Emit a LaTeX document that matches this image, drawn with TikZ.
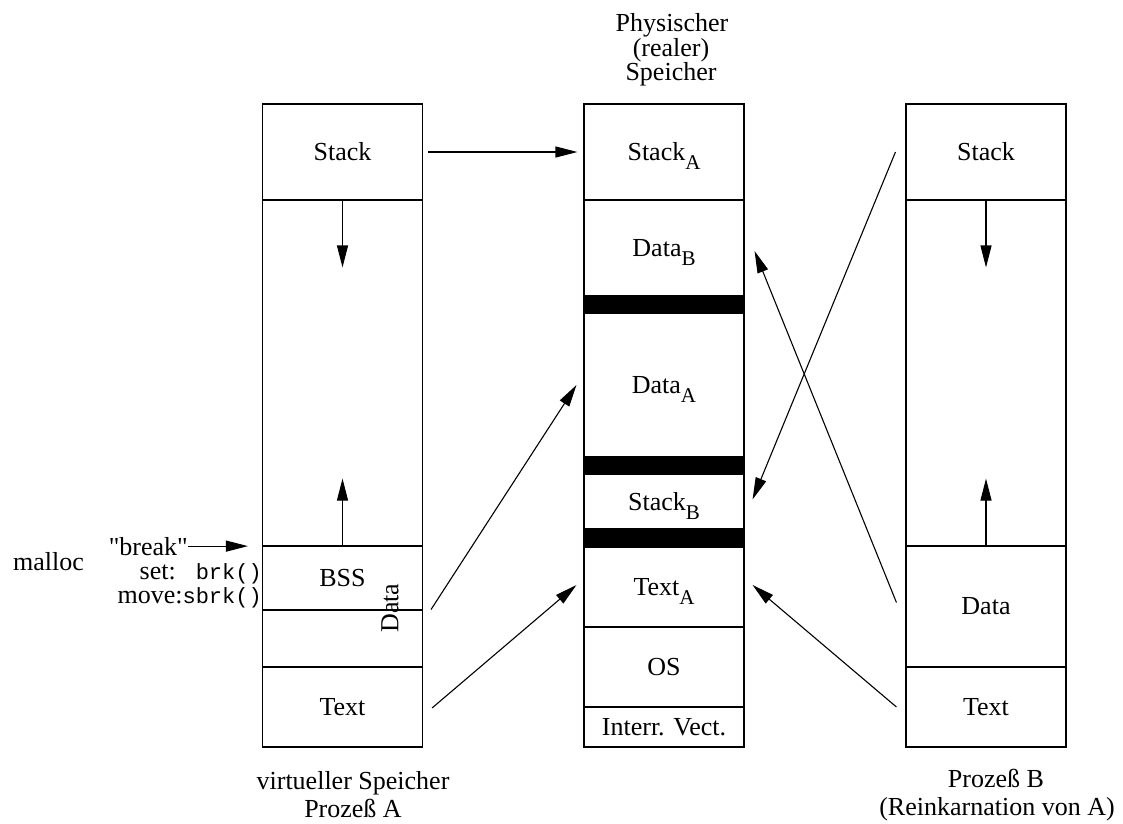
\documentclass[tikz,border=0pt]{standalone}
\usepackage{fontspec}
\setmainfont{Liberation Serif}
\setmonofont{Liberation Mono}
% same serif without TeX quote ligatures, for straight quotes
\newfontfamily\plainserif{Liberation Serif}[Ligatures=TeXOff]
\usetikzlibrary{arrows.meta,calc}
% lowered index letter that does not change the height of its line
\newcommand{\idx}[1]{\raisebox{-9pt}[0pt][0pt]{\fontsize{21}{21}\selectfont #1}}
% function names in typewriter type
\newcommand{\fn}[1]{{\fontsize{22}{22}\selectfont\ttfamily #1}}

\begin{document}
\begin{tikzpicture}[x=1pt,y=-1pt,
  every node/.style={font=\fontsize{26}{25}\selectfont, inner sep=0pt},
  seg/.style={draw, line width=1.1pt, minimum width=160pt},
  bar/.style={draw=black, fill=black, line width=1.1pt, minimum width=160pt},
  arr/.style={line width=1.1pt, -{Triangle[length=22pt,width=11pt]}}]
\useasboundingbox (0,0) rectangle (1123,823);

% virtual memory of process A
\node[seg, minimum height=96pt]  (lstack) at (342.5,152)   {Stack};
\node[seg, minimum height=346pt] (lfree)  at (342.5,373)   {};
\node[seg, minimum height=64pt]  (lbss)   at (342.5,578)   {BSS};
\node[seg, minimum height=57pt]  (ldata)  at (342.5,638.5) {};
\node[seg, minimum height=80pt]  (ltext)  at (342.5,707)   {Text};
\node[rotate=90] (ldlabel) at (390,608) {Data};

% physical memory
\node[seg, minimum height=96pt]  (mstack)  at (664,152)   {Stack\idx{A}};
\node[seg, minimum height=96pt]  (mdataB)  at (664,248)   {Data\idx{B}};
\node[bar, minimum height=17pt]  (bar1)    at (664,304.5) {};
\node[seg, minimum height=144pt] (mdataA)  at (664,385)   {Data\idx{A}};
\node[bar, minimum height=17pt]  (bar2)    at (664,465.5) {};
\node[seg, minimum height=55pt]  (mstackB) at (664,501.5) {Stack\idx{B}};
\node[bar, minimum height=18pt]  (bar3)    at (664,538)   {};
\node[seg, minimum height=80pt]  (mtextA)  at (664,587)   {Text\idx{A}};
\node[seg, minimum height=80pt]  (mos)     at (664,667)   {OS};
\node[seg, minimum height=40pt]  (mivec)   at (664,727)   {Interr. Vect.};

% process B
\node[seg, minimum height=96pt]  (rstack) at (986,152)   {Stack};
\node[seg, minimum height=346pt] (rfree)  at (986,373)   {};
\node[seg, minimum height=121pt] (rdata)  at (986,606.5) {Data};
\node[seg, minimum height=80pt]  (rtext)  at (986,707)   {Text};

% headings
\node[anchor=base] (h1) at (672,31) {Physischer};
\node[anchor=base] (h2) at (671,56) {(realer)};
\node[anchor=base] (h3) at (671,80) {Speicher};
\node[anchor=base] (fa1) at (353,789) {virtueller Speicher};
\node[anchor=base] (fa2) at (353,817) {Prozeß A};
\node[anchor=base] (fb1) at (996,787) {Prozeß B};
\node[anchor=base] (fb2) at (997,815) {(Reinkarnation von A)};

% break labels
\node[anchor=base west] (malloc) at (13,570) {malloc};
\node[anchor=base east] (brk) at (188,555) {\plainserif "break"};
\node[anchor=base east] (setl) at (262,579) {set:\hspace{20pt}\fn{brk()}};
\node[anchor=base east] (movel) at (262,603) {move:\fn{sbrk()}};
\draw[arr, shorten >=14pt] (brk.east) -- (brk.east -| lbss.west);

% stack and heap growth
\draw[arr] (lfree.north) -- ++(0,68);
\draw[arr] (lfree.south) -- ++(0,-68);
\draw[arr] (rfree.north) -- ++(0,68);
\draw[arr] (rfree.south) -- ++(0,-68);

% mappings
\draw[arr, shorten <=5pt, shorten >=6pt] (lstack.east) -- (mstack.west);
\draw[arr] ($(ldata.north east)+(8,0)$) -- ($(mdataA.west)+(-7,0)$);
\draw[arr] ($(ltext.east)+(9,1)$) -- ($(mtextA.west)+(-7,-2)$);
\draw[arr] ($(rstack.west)+(-10,0)$) -- ($(mstackB.east)+(8,-2)$);
\draw[arr] ($(rdata.west)+(-9,-4)$) -- ($(mdataB.east)+(10,3)$);
\draw[arr] ($(rtext.west)+(-9,0)$) -- ($(mtextA.east)+(8,-2)$);
\end{tikzpicture}
\end{document}
